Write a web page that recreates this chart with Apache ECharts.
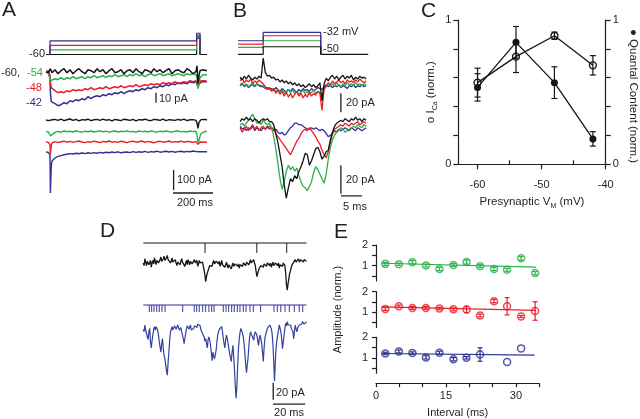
<!DOCTYPE html>
<html>
<head>
<meta charset="utf-8" />
<script src="https://cdn.jsdelivr.net/npm/echarts@6/dist/echarts.min.js"></script>
<style>html,body{margin:0;padding:0;background:#fff}#fig{width:640px;height:419px}</style>
</head>
<body>
<div id="fig"></div>
<script>
var INK = '#231f20', BLACK = '#151515', GREEN = '#2bb04a', RED = '#ec1c24', BLUE = '#2e3192';
var FONT = '"Liberation Sans", Arial, sans-serif';

// ---- panel A : command steps (mV vs ms) ----
var aCmdBlack = [[0,-60],[753,-60],[753,-38.5],[770,-38.5],[770,-60],[805,-60]];
var aCmdGreen = [[20,-60],[20,-54],[753,-54],[753,-36.5],[770,-36.5],[770,-60]];
var aCmdRed   = [[20,-60],[20,-48],[753,-48],[753,-34.5],[770,-34.5],[770,-60]];
var aCmdBlue  = [[20,-60],[20,-42],[753,-42],[753,-32],[770,-32],[770,-60]];

// ---- panel A : currents, time in ms ----
var tA = [0,6,12,18,20,22,26,30,
  45,60,75,90,105,120,135,150,165,180,195,210,
  225,240,255,270,285,300,315,330,345,360,375,390,
  405,420,435,450,465,480,495,510,525,540,555,570,
  585,600,615,630,645,660,675,690,705,720,735,750,
  755,760,765,770,775,785,795,805];
var aTopBlack = [0,2,-1,1,-2,3,1,-1,
  2,-2,1,3,-1,2,-2,1,3,0,-2,2,
  1,-1,3,0,2,-2,1,3,-1,0,2,-2,
  1,2,-1,3,0,-2,2,1,-1,3,0,2,
  -1,1,3,-2,1,2,0,-1,3,1,-2,0,
  6,-12,-4,1,-1,2,0,1];
var aTopGreen = [0,1,-1,0,-1,-9,-11,-9,
  -7,-8,-6,-8,-6,-7,-5,-7,-6,-5,-7,-5,
  -6,-4,-6,-5,-4,-6,-4,-5,-3,-5,-4,-3,
  -5,-3,-4,-2,-4,-3,-5,-3,-2,-4,-3,-2,
  -4,-3,-2,-4,-3,-2,-3,-4,-2,-3,-2,-3,
  -6,-17,-12,-6,-4,-3,-2,-3];
var aTopRed = [0,-1,1,0,-3,-10,-16,-18,
  -19,-21,-20,-21,-19,-20,-18,-19,-18,-19,-17,-18,
  -16,-18,-17,-16,-17,-15,-17,-16,-15,-16,-14,-16,
  -15,-14,-15,-13,-15,-14,-13,-14,-12,-13,-12,-13,
  -11,-12,-11,-12,-10,-12,-11,-10,-11,-9,-10,-9,
  -11,-15,-12,-10,-9,-10,-9,-10];
var aTopBlue = [0,1,-1,0,-6,-20,-30,-31,
  -32,-34,-33,-31,-32,-29,-30,-28,-29,-27,-28,-25,
  -27,-25,-24,-25,-23,-24,-22,-23,-21,-22,-20,-22,
  -20,-19,-20,-18,-19,-17,-18,-16,-17,-15,-16,-14,
  -15,-13,-14,-12,-13,-11,-12,-11,-12,-10,-11,-10,
  -12,-15,-12,-10,-11,-10,-11,-10];
var aBotBlack = [0,4,-3,2,-2,3,0,-4,
  3,-2,4,-3,1,5,-2,3,-4,2,0,4,
  -3,1,3,-2,4,-1,2,-4,3,0,-3,4,
  1,-2,3,-4,2,0,4,-1,-3,3,1,-2,
  4,-3,2,0,-2,3,-1,4,-3,1,2,-2,
  -15,-42,-12,-3,2,-2,3,0];
var aBotGreen = [-58,-55,-60,-57,-62,-80,-85,-75,
  -62,-57,-61,-55,-59,-56,-60,-54,-58,-61,-56,-59,
  -55,-60,-57,-54,-59,-56,-61,-57,-55,-60,-56,-58,
  -54,-59,-57,-61,-55,-58,-56,-60,-54,-58,-61,-56,
  -59,-55,-58,-61,-56,-54,-59,-57,-60,-55,-58,-56,
  -75,-112,-100,-82,-68,-60,-57,-58];
var aBotRed = [-110,-107,-112,-108,-125,-172,-130,-114,
  -108,-113,-109,-106,-111,-107,-112,-108,-105,-110,-113,-108,
  -111,-106,-109,-113,-107,-110,-105,-111,-108,-112,-106,-109,
  -113,-108,-106,-111,-109,-105,-112,-107,-110,-114,-108,-106,
  -111,-109,-105,-112,-108,-110,-106,-111,-107,-109,-112,-108,
  -114,-122,-115,-110,-107,-111,-108,-110];
var aBotBlue = [-160,-157,-162,-158,-175,-365,-235,-205,
  -190,-182,-178,-174,-171,-168,-170,-166,-169,-165,-168,-164,
  -167,-163,-166,-162,-165,-161,-164,-160,-163,-159,-164,-161,
  -160,-163,-158,-162,-159,-161,-157,-162,-158,-160,-156,-161,
  -159,-156,-160,-157,-161,-158,-156,-160,-157,-159,-155,-158,
  -160,-157,-159,-156,-160,-158,-157,-159];

// ---- panel B : command steps ----
var bCmdBlack = [[0,-50],[6,-50],[6,-43.8],[19.7,-43.8],[19.7,-50],[31,-50]];
var bCmdGreen = [[0,-44.3],[6,-44.3],[6,-38.9],[19.7,-38.9],[19.7,-50]];
var bCmdRed   = [[0,-41.6],[6,-41.6],[6,-34.8],[19.7,-34.8],[19.7,-50]];
var bCmdBlue  = [[0,-38.9],[6,-38.9],[6,-32],[19.7,-32],[19.7,-50]];

// ---- panel B : currents, time in ms ----
var tB = [0.5,1,1.5,2,2.5,3,3.5,4,4.5,5,5.5,6,6.5,7,7.5,8,8.5,9,9.5,10,
  10.5,11,11.5,12,12.5,13,13.5,14,14.5,15,15.5,16,16.5,17,17.5,18,18.5,19,19.5,20,
  20.5,21,21.5,22,22.5,23,23.5,24,24.5,25,25.5,26,26.5,27,27.5,28,28.5,29,29.5,30,30.5];
var bTopBlack = [3,0,4,1,5,2,0,3,1,4,2,23,8,4,5,2,3,0,1,-2,
  0,-3,-1,-4,-2,-5,-3,-6,-4,-7,-5,-8,-6,-4,-7,-5,-8,-6,-3,-22,
  -4,2,-1,3,5,1,4,0,3,5,1,4,2,5,0,3,1,4,2,3,1];
var bTopGreen = [-5,-3,-6,-4,-7,-5,-3,-6,-4,-5,-6,-6,-8,-10,-8,-11,-9,-12,-10,-13,
  -11,-14,-12,-10,-13,-11,-14,-12,-15,-13,-11,-14,-12,-15,-13,-11,-14,-12,-13,-16,
  -9,-7,-5,-7,-4,-6,-3,-5,-7,-4,-6,-3,-5,-4,-6,-3,-5,-4,-6,-4,-5];
var bTopRed = [-1,2,-3,0,-2,1,-4,-1,-3,0,-2,-4,-7,-10,-8,-12,-9,-14,-11,-15,
  -12,-17,-13,-18,-14,-19,-15,-12,-17,-14,-19,-15,-18,-13,-17,-14,-16,-12,-14,-32,
  -10,-6,-3,-5,-1,-4,-2,0,-3,-1,-4,0,-2,-1,-3,0,-2,1,-1,-3,-1];
var bTopBlue = [-6,-4,-7,-5,-8,-6,-5,-7,-4,-6,-7,-7,-9,-8,-10,-9,-11,-8,-10,-12,
  -9,-11,-13,-10,-12,-9,-11,-13,-10,-12,-9,-11,-10,-12,-9,-11,-10,-8,-9,-10,
  -7,-5,-7,-6,-8,-6,-7,-5,-8,-6,-7,-9,-6,-7,-5,-8,-6,-7,-5,-7,-6];
var bBotBlack = [0,2,1,3,1,2,0,2,1,-1,1,2,1,2,0,0,-2,-8,-14,-22,
  -30,-42,-51,-44,-38,-40,-36,-38,-33,-30,-26,-21,-22,-29,-26,-22,-18,-17,-20,-25,
  -23,-20,-19,-12,-7,-3,-1,0,1,0,2,1,0,2,1,3,1,2,0,2,1];
var bBotGreen = [-2,-1,-3,-1,1,3,5,2,-1,0,-2,1,-1,-2,-1,-4,-10,-18,-28,-38,
  -45,-40,-33,-29,-32,-30,-33,-31,-36,-40,-43,-44,-46,-43,-40,-34,-30,-32,-35,-38,
  -41,-35,-25,-17,-12,-9,-7,-6,-4,-5,-7,-6,-5,-4,-3,-4,-2,-3,-4,-2,-3];
var bBotRed = [-4,-7,-5,-3,-6,-4,-2,-5,-3,-6,-4,-3,-5,-4,-3,-5,-4,-8,-10,-12,
  -14,-16,-18,-20,-22,-19,-16,-13,-11,-8,-6,-5,-6,-4,-6,-8,-10,-13,-15,-19,
  -22,-24,-20,-14,-8,-5,-4,-3,-2,-3,-1,-2,-3,-1,-2,-1,0,-2,-1,0,-1];
var bBotBlue = [-3,-5,-4,-6,-4,-5,-3,-6,-4,-5,-6,-4,-5,-3,-5,-4,-6,-5,-7,-8,
  -7,-9,-8,-6,-4,-3,-1,-1,-2,-2,-3,-4,-5,-5,-4,-5,-4,-5,-6,-5,
  -6,-8,-10,-9,-8,-6,-7,-5,-6,-5,-4,-5,-6,-4,-5,-6,-4,-5,-6,-5,-4];

// ---- panel C ----
var cV = [-60, -54, -48, -42];
var cICa = [0.566, 0.746, 0.891, 0.686];
var cICaErr = [0.10, 0.11, 0.025, 0.067];
var cQC = [0.533, 0.845, 0.566, 0.176];
var cQCErr = [0.095, 0.11, 0.11, 0.05];

// ---- panel D, time in ms (whole ms and half ms samples) ----
var tD = [0,1,2,3,4,5,6,7,8,9,10,11,12,13,14,15,16,17,18,19,20,21,22,23,24,25,26,27,28,29,
  30,31,32,33,34,35,36,37,38,39,40,41,42,43,44,45,46,47,48,49,50,51,52,53,54,55,56,57,58,59,
  60,61,62,63,64,65,66,67,68,69,70,71,72,73,74,75,76,77,78,79,80,81,82,83,84,85,86,87,88,89,
  90,91,92,93,94,95,96,97,98,99,100,101,102];
var tDh = [0.5,1.5,2.5,3.5,4.5,5.5,6.5,7.5,8.5,9.5,10.5,11.5,12.5,13.5,14.5,15.5,16.5,17.5,18.5,19.5,
  20.5,21.5,22.5,23.5,24.5,25.5,26.5,27.5,28.5,29.5,30.5,31.5,32.5,33.5,34.5,35.5,36.5,37.5,38.5,39.5,
  40.5,41.5,42.5,43.5,44.5,45.5,46.5,47.5,48.5,49.5,50.5,51.5,52.5,53.5,54.5,55.5,56.5,57.5,58.5,59.5,
  60.5,61.5,62.5,63.5,64.5,65.5,66.5,67.5,68.5,69.5,70.5,71.5,72.5,73.5,74.5,75.5,76.5,77.5,78.5,79.5,
  80.5,81.5,82.5,83.5,84.5,85.5,86.5,87.5,88.5,89.5,90.5,91.5,92.5,93.5,94.5,95.5,96.5,97.5,98.5,99.5,
  100.5,101.5];
var dBlack = [0,5,-3,4,-1,-5,3,6,-2,4,
  -1,7,1,8,2,9,3,0,6,-1,
  4,-3,3,-2,5,-1,-4,3,4,-2,
  3,-3,4,0,-4,3,-2,1,-8,-22,
  -12,-7,-2,-4,3,-2,4,-1,-4,3,
  -2,-5,1,-6,-1,-7,0,-5,1,-4,
  -6,0,-4,2,-3,3,-2,4,-1,4,
  -3,-16,-9,-6,-1,-5,1,-4,2,-3,
  -5,1,-4,2,-3,-6,0,-4,1,-12,
  -32,-18,-9,-2,1,4,-1,5,2,6,
  1,5,2];
var dBlackH = [-3,1,2,-2,3,0,-1,2,3,0,
  4,2,5,3,6,4,6,3,1,3,
  0,1,-1,2,1,2,0,-2,1,2,
  -1,1,0,3,-1,0,2,-1,-14,-16,
  -9,-3,-5,0,-1,2,0,2,-1,-2,
  0,-2,-3,-2,-4,-3,-4,-1,-3,-1,
  -2,-3,0,-1,1,0,1,0,2,0,
  -10,-12,-6,-3,-4,-1,-2,0,-2,0,
  -2,-3,0,-2,0,-2,-3,0,-3,-26,
  -24,-12,-5,-4,-1,1,3,1,4,2,
  4,2];
var dBlue = [-3,2,-8,-15,-2,-25,-10,0,0,-4,
  -18,-30,-14,-34,-45,-57,-30,-6,0,-2,
  0,-1,0,-2,-6,-14,-18,-2,0,-1,
  -4,-6,1,2,3,4,-3,-8,-12,-14,
  -25,-12,-22,-40,-34,-40,-18,-6,-2,0,
  -14,-25,-10,-20,-32,-41,-22,-50,-84,-45,
  -14,-2,-8,-20,-45,-52,-22,-6,-10,-16,
  -6,-10,-22,-10,-20,-41,-14,-6,0,2,
  -2,-20,-64,-24,-10,2,-6,-26,-10,4,
  6,0,2,0,-14,2,-6,-2,4,3,
  6,2,6];
var dBlueH = [-6,-4,-12,-6,-18,-16,-3,-4,2,-10,
  -24,-20,-26,-38,-52,-42,-15,-3,-4,1,
  -3,2,-4,-1,-10,-20,-8,1,-3,2,
  -2,-2,3,-1,5,1,-6,-5,-17,-20,
  -15,-16,-30,-30,-38,-28,-10,-3,-5,-6,
  -20,-15,-14,-26,-36,-30,-35,-70,-70,-25,
  -6,-4,-12,-32,-54,-36,-12,-9,-13,-9,
  -4,-16,-14,-15,-30,-25,-9,-2,-3,0,
  -8,-40,-42,-16,-4,-2,-14,-18,-2,1,
  2,4,-2,-6,-5,-3,-1,2,1,6,
  3,5];
var dBlackEvents = [38.6, 70.9, 89.6];
var dBlueEvents = [3.8,5.2,6.7,8.4,10,11.7,13.6,24.6,31.9,33.3,35,37.1,38.9,41,42.7,44.2,
  50,51.7,53.3,55.2,56.9,58.8,60.4,62.5,64.2,66.7,68.8,73.3,81.7,83.8,85.9,88.6,91.3,94.4,97.5,99.6];

// ---- panel E ----
var eX = [2, 4.9, 7.8, 10.7, 13.6, 16.6, 19.4, 22.3, 25.3, 28.1, 31.1, 34.1];
var eGreen = [1.08,1.06,1.16,1.0,0.83,1.03,1.17,0.97,0.83,0.79,1.35,0.63];
var eGreenErr = [0.07,0.06,0.08,0.07,0.08,0.07,0.1,0.07,0.08,0.07,0.09,0.08];
var eRed = [1.15,1.28,1.2,1.2,1.17,1.13,1.12,0.83,1.53,1.28,0.78,1.05];
var eRedErr = [0.07,0.06,0.07,0.07,0.06,0.07,0.15,0.07,0.08,0.42,0.05,0.45];
var eBlueX = [2, 4.9, 7.8, 10.7, 13.6, 16.6, 19.4, 22.3, 28.1, 31.1];
var eBlue = [1.21,1.31,1.23,1.02,1.25,0.93,1.0,1.16,0.8,1.46];
var eBlueErr = [0.06,0.07,0.06,0.08,0.07,0.08,0.06,0.33,0,0];
var eGreenFit = [[1.2,1.11],[34.3,0.92]];
var eRedFit = [[1.2,1.25],[34.3,1.08]];
var eBlueFit = [[1.2,1.21],[34,1.13]];

// -------------------------------------------------------------
function zip(t, v) { return t.map(function (x, i) { return [x, v[i]]; }); }
function merge(a, b) { return a.concat(b).sort(function (p, q) { return p[0] - q[0]; }); }

function trace(data, color, gi, w) {
  return { type: 'line', xAxisIndex: gi, yAxisIndex: gi, data: data,
    showSymbol: false, symbol: 'none', clip: false, silent: true, animation: false,
    lineStyle: { color: color, width: w || 1.3 }, itemStyle: { color: color } };
}

function errBars(xs, ys, es, color, xi, yi, cap) {
  return { type: 'custom', xAxisIndex: xi, yAxisIndex: yi, silent: true, animation: false, z: 3,
    data: xs.map(function (x, i) { return [x, ys[i], es[i]]; }),
    renderItem: function (p, api) {
      var x = api.value(0), y = api.value(1), e = api.value(2);
      if (!e) return null;
      var a = api.coord([x, y + e]), b = api.coord([x, y - e]);
      var st = { stroke: color, lineWidth: 1.2 };
      return { type: 'group', children: [
        { type: 'line', shape: { x1: a[0], y1: a[1], x2: b[0], y2: b[1] }, style: st },
        { type: 'line', shape: { x1: a[0] - cap, y1: a[1], x2: a[0] + cap, y2: a[1] }, style: st },
        { type: 'line', shape: { x1: b[0] - cap, y1: b[1], x2: b[0] + cap, y2: b[1] }, style: st }
      ] };
    } };
}

function ticks(xs, color, gi, h) {
  return { type: 'scatter', xAxisIndex: gi, yAxisIndex: gi, silent: true, animation: false,
    data: xs.map(function (x) { return [x, 0.5]; }),
    symbol: 'rect', symbolSize: [1.2, h], itemStyle: { color: color } };
}

function hx(gi, min, max) { return { gridIndex: gi, type: 'value', min: min, max: max, show: false }; }

function txt(x, y, s, color, size, align, rot) {
  return { type: 'text', x: x, y: y, rotation: rot || 0, silent: true,
    style: { text: s, fill: color, font: size + 'px ' + FONT,
      textAlign: align || 'left', align: align || 'left',
      textVerticalAlign: 'middle', verticalAlign: 'middle' } };
}

function g(left, top, width, height) {
  return { left: left, top: top, width: width, height: height, containLabel: false, outerBoundsMode: 'none' };
}

var axLine = { show: true, lineStyle: { color: INK, width: 1.2 } };
var axTickStyle = { color: INK, width: 1.2 };
var lblStyle = { color: INK, fontSize: 11, fontFamily: FONT };

var grids = [
  g(42, 31, 174, 25),          // 0 A command
  g(42, 66.7, 174, 45),        // 1 A top currents
  g(42, 116, 174, 80),         // 2 A bottom currents
  g(238, 29.9, 134.4, 26.84),  // 3 B command
  g(238, 56.25, 134.4, 57.95), // 4 B top
  g(238, 106.7, 134.4, 97.5),  // 5 B bottom
  g(458.3, 20, 147.4, 144.3),  // 6 C
  g(143.3, 243, 163.2, 10),    // 7 D raster black
  g(143.3, 252.8, 163.2, 44.2),// 8 D black trace
  g(143.3, 305, 163.2, 7),     // 9 D raster blue
  g(143.3, 322.45, 163.2, 82.45), // 10 D blue trace
  g(376, 245, 163.3, 35.9),    // 11 E green
  g(376, 291.5, 163.3, 35.9),  // 12 E red
  g(376, 337.3, 163.3, 35.9)   // 13 E blue
];

function eY(gi, name) {
  var ax = { gridIndex: gi, type: 'value', min: 0.25, max: 2, position: 'left',
    axisLine: axLine, splitLine: { show: false },
    axisTick: { show: true, length: 4, lineStyle: axTickStyle, customValues: [0.5, 1, 1.5, 2] },
    axisLabel: Object.assign({ margin: 8, customValues: [1, 2] }, lblStyle) };
  if (name) {
    ax.name = name; ax.nameLocation = 'middle'; ax.nameGap = 33;
    ax.nameTextStyle = { color: INK, fontSize: 11, fontFamily: FONT };
  }
  return ax;
}

var xAxes = [
  hx(0, -20, 850), hx(1, -20, 850), hx(2, -20, 850),
  hx(3, 0, 32), hx(4, 0, 32), hx(5, 0, 32),
  { gridIndex: 6, type: 'value', min: -63, max: -40, position: 'bottom', offset: 6,
    axisLine: axLine, splitLine: { show: false },
    axisTick: { show: true, length: 5, lineStyle: axTickStyle, customValues: [-60, -50, -40] },
    axisLabel: Object.assign({ margin: 9, customValues: [-60, -50, -40] }, lblStyle),
    name: '{n|Presynaptic V}{s|M}{n| (mV)}', nameLocation: 'middle', nameGap: 25,
    nameTextStyle: { rich: {
      n: { color: INK, fontSize: 11.5, fontFamily: FONT, lineHeight: 14 },
      s: { color: INK, fontSize: 7, fontFamily: FONT, lineHeight: 14, verticalAlign: 'bottom' } } } },
  hx(7, 0, 102), hx(8, 0, 102), hx(9, 0, 102), hx(10, 0, 102),
  hx(11, 0, 35), hx(12, 0, 35),
  { gridIndex: 13, type: 'value', min: 0, max: 35, position: 'bottom', offset: 10,
    axisLine: axLine, splitLine: { show: false },
    axisTick: { show: true, length: 4, lineStyle: axTickStyle, customValues: [0, 5, 10, 15, 20, 25, 30, 35] },
    axisLabel: Object.assign({ margin: 7, customValues: [0, 15, 30] }, lblStyle),
    name: 'Interval (ms)', nameLocation: 'middle', nameGap: 24,
    nameTextStyle: { color: INK, fontSize: 11, fontFamily: FONT } },
  // 14: minor ticks of C x axis
  { gridIndex: 6, type: 'value', min: -63, max: -40, position: 'bottom', offset: 6,
    axisLine: { show: false }, splitLine: { show: false }, axisLabel: { show: false },
    axisTick: { show: true, inside: true, length: 4, lineStyle: axTickStyle, customValues: [-55, -45] } }
];

var yAxes = [
  hx(0, -62, -29), hx(1, -40, 5), hx(2, -380, 20),
  hx(3, -52, -30), hx(4, -36, 25), hx(5, -55, 10),
  { gridIndex: 6, type: 'value', min: 0, max: 1, position: 'left',
    axisLine: axLine, splitLine: { show: false },
    axisTick: { show: true, length: 5, lineStyle: axTickStyle, customValues: [0, 0.2, 0.4, 0.6, 0.8, 1] },
    axisLabel: Object.assign({ margin: 7, customValues: [0, 1] }, lblStyle),
    name: '{n|o I}{s|Ca}{n| (norm.)}', nameLocation: 'middle', nameGap: 20,
    nameTextStyle: { rich: {
      n: { color: INK, fontSize: 11.5, fontFamily: FONT, lineHeight: 14 },
      s: { color: INK, fontSize: 7, fontFamily: FONT, lineHeight: 14, verticalAlign: 'bottom' } } } },
  hx(7, 0, 1), hx(8, -40, 12), hx(9, 0, 1), hx(10, -92, 5),
  eY(11), eY(12, 'Amplitude (norm.)'), eY(13),
  // 14: right axis of C (its title is drawn as a rotated text below)
  { gridIndex: 6, type: 'value', min: 0, max: 1, position: 'right',
    axisLine: axLine, splitLine: { show: false },
    axisTick: { show: true, length: 5, lineStyle: axTickStyle, customValues: [0, 0.2, 0.4, 0.6, 0.8, 1] },
    axisLabel: Object.assign({ margin: 7, customValues: [0, 1] }, lblStyle) }
];

var series = [
  // A command
  trace(aCmdBlack, BLACK, 0, 1.2), trace(aCmdGreen, GREEN, 0, 1.2),
  trace(aCmdRed, RED, 0, 1.2), trace(aCmdBlue, BLUE, 0, 1.2),
  // A top
  trace(zip(tA, aTopBlue), BLUE, 1, 1.5), trace(zip(tA, aTopRed), RED, 1, 1.5),
  trace(zip(tA, aTopGreen), GREEN, 1, 1.5), trace(zip(tA, aTopBlack), BLACK, 1, 1.5),
  trace([[550, -21], [550, -31]], INK, 1, 1.3),
  // A bottom
  trace(zip(tA, aBotBlue), BLUE, 2, 1.4), trace(zip(tA, aBotRed), RED, 2, 1.4),
  trace(zip(tA, aBotGreen), GREEN, 2, 1.4), trace(zip(tA, aBotBlack), BLACK, 2, 1.4),
  trace([[638, -250], [638, -350]], INK, 2, 1.3),
  trace([[635, -365], [835, -365]], INK, 2, 1.3),
  // B command
  trace(bCmdGreen, GREEN, 3, 1.2), trace(bCmdRed, RED, 3, 1.2), trace(bCmdBlue, BLUE, 3, 1.2), trace(bCmdBlack, BLACK, 3, 1.2),
  // B top
  trace(zip(tB, bTopBlue), BLUE, 4), trace(zip(tB, bTopGreen), GREEN, 4),
  trace(zip(tB, bTopRed), RED, 4), trace(zip(tB, bTopBlack), BLACK, 4),
  trace([[24.5, -14], [24.5, -34]], INK, 4, 1.3),
  // B bottom
  trace(zip(tB, bBotBlue), BLUE, 5), trace(zip(tB, bBotRed), RED, 5),
  trace(zip(tB, bBotGreen), GREEN, 5), trace(zip(tB, bBotBlack), BLACK, 5),
  trace([[24.5, -29], [24.5, -48]], INK, 5, 1.3),
  trace([[24.5, -49.5], [29.5, -49.5]], INK, 5, 1.3),
  // C
  errBars(cV, cQC, cQCErr, BLACK, 6, 14, 3),
  errBars(cV, cICa, cICaErr, BLACK, 6, 6, 3),
  { type: 'line', xAxisIndex: 6, yAxisIndex: 14, data: zip(cV, cQC), symbol: 'circle', symbolSize: 7,
    animation: false, silent: true, z: 4, lineStyle: { color: BLACK, width: 1.3 }, itemStyle: { color: BLACK } },
  { type: 'line', xAxisIndex: 6, yAxisIndex: 6, data: zip(cV, cICa), symbol: 'circle', symbolSize: 7,
    animation: false, silent: true, z: 4, lineStyle: { color: BLACK, width: 1.3 },
    itemStyle: { color: 'rgba(255,255,255,0)', borderColor: BLACK, borderWidth: 1.3 } },
  // D
  trace([[0, 1], [102, 1]], BLACK, 7, 1.2), ticks(dBlackEvents, BLACK, 7, 10),
  trace(merge(zip(tD, dBlack), zip(tDh, dBlackH)), BLACK, 8, 1.3),
  trace([[0, 1], [102, 1]], BLUE, 9, 1.2), ticks(dBlueEvents, BLUE, 9, 7),
  trace(merge(zip(tD, dBlue), zip(tDh, dBlueH)), '#3341a0', 10, 1.2),
  trace([[81.2, -66], [81.2, -86]], INK, 10, 1.3),
  trace([[81, -91], [101.2, -91]], INK, 10, 1.3)
];

[[11, eX, eGreen, eGreenErr, eGreenFit, GREEN], [12, eX, eRed, eRedErr, eRedFit, RED],
 [13, eBlueX, eBlue, eBlueErr, eBlueFit, BLUE]].forEach(function (p) {
  series.push(trace(p[4], p[5], p[0], 1.2));
  series.push(errBars(p[1], p[2], p[3], p[5], p[0], p[0], 2.5));
  series.push({ type: 'scatter', xAxisIndex: p[0], yAxisIndex: p[0], data: zip(p[1], p[2]),
    symbol: 'circle', symbolSize: 7, animation: false, silent: true, z: 4,
    itemStyle: { color: 'rgba(255,255,255,0)', borderColor: p[5], borderWidth: 1.5 } });
});

var texts = [
  txt(2, 10, 'A', INK, 21), txt(233, 11, 'B', INK, 21), txt(421, 11, 'C', INK, 21),
  txt(100, 231, 'D', INK, 21), txt(334, 232, 'E', INK, 21),
  txt(45, 54, '-60', INK, 11, 'right'),
  txt(1, 73, '-60,', INK, 11), txt(27, 73, '-54', GREEN, 11),
  txt(26, 88, '-48', RED, 11), txt(26, 103, '-42', BLUE, 11),
  txt(159, 99, '10 pA', INK, 11), txt(177, 180, '100 pA', INK, 11), txt(195, 203, '200 ms', INK, 11, 'center'),
  txt(323, 32, '-32 mV', INK, 11), txt(323, 49, '-50', INK, 11),
  txt(346, 103, '20 pA', INK, 11), txt(346, 180, '20 pA', INK, 11), txt(355, 207, '5 ms', INK, 11, 'center'),
  txt(276, 393, '20 pA', INK, 11), txt(289, 413, '20 ms', INK, 11, 'center'),
  txt(633, 96, '\u25CF Quantal Content (norm.)', INK, 11.5, 'center', -Math.PI / 2)
];

var chart = echarts.init(document.getElementById('fig'), null, { renderer: 'canvas' });
chart.setOption({
  backgroundColor: '#fff',
  animation: false,
  grid: grids,
  xAxis: xAxes,
  yAxis: yAxes,
  series: series,
  graphic: { elements: texts }
});
</script>
</body>
</html>
